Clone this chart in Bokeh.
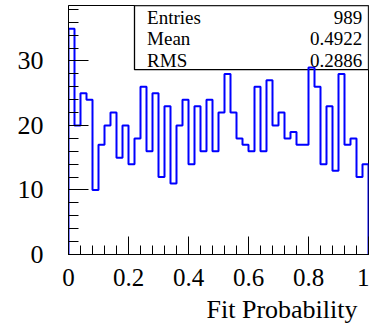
import numpy as np
from bokeh.plotting import figure
from bokeh.models import (Range1d, FixedTicker, BoxAnnotation, Label, Title,
                          CustomJSTickFormatter)
from bokeh.embed import file_html
from bokeh.resources import INLINE

# ---- data ----
counts = [35, 20, 25, 24, 10, 17, 20, 22, 15, 20,
          14, 18, 26, 16, 25, 12, 23, 11, 20, 24,
          14, 23, 16, 24, 16, 22, 28, 22, 18, 17,
          16, 26, 16, 27, 20, 22, 18, 19, 17, 17,
          29, 26, 14, 23, 13, 28, 17, 18, 12, 14]
x_low, x_high = 0.0, 1.0
x_ticks = [0.0, 0.2, 0.4, 0.6, 0.8, 1.0]
x_tick_labels = ["0", "0.2", "0.4", "0.6", "0.8", "1"]
y_ticks = [0, 10, 20, 30]
stats_names = ["Entries", "Mean", "RMS"]
stats_values = ["989", "0.4922", "0.2886"]
x_title = "Fit Probability"

FONT = "Liberation Serif"

n = len(counts)
edges = np.linspace(x_low, x_high, n + 1)
xs = np.repeat(edges, 2)
ys = np.concatenate([[0], np.repeat(counts, 2), [0]])

y_top = 38.6

p = figure(width=369, height=328,
           x_range=Range1d(x_low, x_high), y_range=Range1d(0, y_top),
           output_backend="svg", toolbar_location=None,
           min_border_left=68, min_border_right=1,
           min_border_top=5, min_border_bottom=74)
p.xgrid.visible = False
p.ygrid.visible = False
p.outline_line_color = "black"
p.outline_line_width = 1
p.background_fill_color = "white"
p.border_fill_color = "white"

# stats box (under the histogram line)
box = BoxAnnotation(left=0.22, right=1.0, bottom=28.65, top=y_top,
                    fill_color="white", fill_alpha=1.0,
                    line_color="black", line_alpha=1.0, line_width=1.3,
                    level="underlay")
p.add_layout(box)

p.line(xs, ys, line_color="#0000ff", line_width=2)

# axes
x_minor = [round(i * 0.04, 2) for i in range(26)]
p.xaxis.ticker = FixedTicker(ticks=x_ticks, minor_ticks=x_minor)
p.xaxis.formatter = CustomJSTickFormatter(
    args=dict(tick_vals=x_ticks, tick_texts=x_tick_labels),
    code="const i = tick_vals.findIndex(t => Math.abs(t - tick) < 1e-9); return i >= 0 ? tick_texts[i] : '';")
y_minor = list(range(0, 40, 2))
p.yaxis.ticker = FixedTicker(ticks=y_ticks, minor_ticks=y_minor)

for ax, tin, min_in in ((p.xaxis, 18, 9), (p.yaxis, 20, 10)):
    ax.major_tick_in = tin
    ax.major_tick_out = 0
    ax.minor_tick_in = min_in
    ax.minor_tick_out = 0
    ax.axis_line_color = "black"
    ax.major_tick_line_color = "black"
    ax.minor_tick_line_color = "black"
    ax.major_label_text_font = FONT
    ax.major_label_text_color = "black"

p.xaxis.major_label_text_font_size = "25px"
p.yaxis.major_label_text_font_size = "26px"
p.xaxis.major_label_standoff = 14
p.yaxis.major_label_standoff = 25

t = Title(text=x_title, align="right", text_font=FONT, text_font_size="26px",
          text_font_style="normal", text_color="black", standoff=9, offset=11)
p.add_layout(t, "below")

# stats text
name_y = [36.79, 33.44, 30.08]
for nm, val, yy in zip(stats_names, stats_values, name_y):
    p.add_layout(Label(x=0.262, y=yy, text=nm, text_font=FONT,
                       text_font_size="19px", text_baseline="alphabetic",
                       text_align="left", text_color="black"))
    p.add_layout(Label(x=0.979, y=yy, text=val, text_font=FONT,
                       text_font_size="19px", text_baseline="alphabetic",
                       text_align="right", text_color="black"))

open("out.html", "w").write(file_html(p, INLINE))
